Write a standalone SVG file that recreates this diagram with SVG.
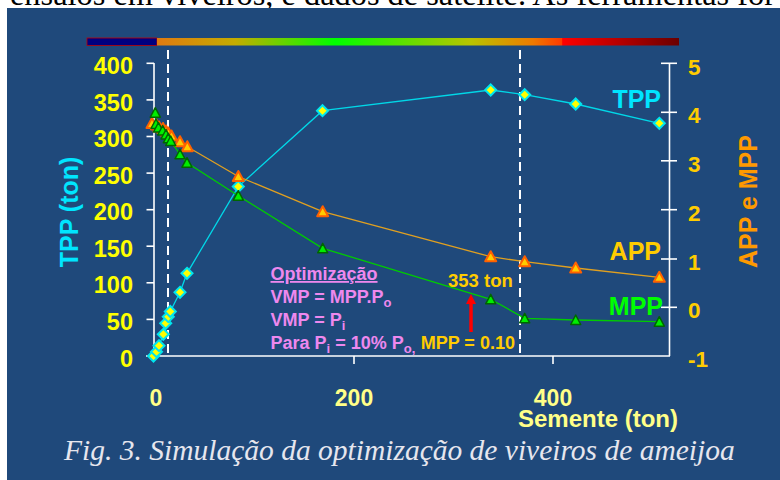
<svg xmlns="http://www.w3.org/2000/svg" width="780" height="480" viewBox="0 0 780 480">
<defs>
<style>
.sans{font-family:"Liberation Sans",Arial,sans-serif;font-weight:bold}
.ly{fill:#ffff00;font-size:23.5px;text-anchor:end}
.ry{fill:#ffcc00;font-size:22.5px}
.xl{fill:#ffff88;font-size:23px;text-anchor:middle}
.ann{fill:#ee88ee;font-size:18px}
.sub{font-size:13px}
.ax{stroke:#ffffff;stroke-width:1.6;fill:none}
.dash{stroke:#ffffff;stroke-width:2;stroke-dasharray:9 5;fill:none}
.tpp{stroke:#00d8e8;stroke-width:1.3;fill:none}
.app{stroke:#e0a020;stroke-width:1.3;fill:none}
.mpp{stroke:#00cc00;stroke-width:1.3;fill:none}
</style>
<linearGradient id="cbar" x1="157" y1="0" x2="679" y2="0" gradientUnits="userSpaceOnUse">
<stop offset="0" stop-color="#e07a10"/>
<stop offset="0.15" stop-color="#c4ac00"/>
<stop offset="0.341" stop-color="#00ff00"/>
<stop offset="0.6" stop-color="#b8c400"/>
<stop offset="0.72" stop-color="#ee7a00"/>
<stop offset="0.776" stop-color="#ff3a00"/>
<stop offset="0.777" stop-color="#ff0000"/>
<stop offset="1" stop-color="#6a0000"/>
</linearGradient>
<path id="dia" d="M0,-5.5 L5.5,0 L0,5.5 L-5.5,0 Z" fill="#ffff00" stroke="#00e5ee" stroke-width="2"/>
<path id="tapp" d="M0,-5.5 L5.5,4.5 L-5.5,4.5 Z" fill="#ffcc00" stroke="#ff6000" stroke-width="2" stroke-linejoin="round"/>
<path id="tmpp" d="M0,-5 L5,4.5 L-5,4.5 Z" fill="#00ee00" stroke="#006600" stroke-width="1.5" stroke-linejoin="round"/>
</defs>

<rect x="0" y="0" width="780" height="480" fill="#ffffff"/>
<text x="10" y="4.5" font-family="'Liberation Serif','Times New Roman',serif" font-size="31" fill="#000000" textLength="765" lengthAdjust="spacingAndGlyphs">ensaios em viveiros, e dados de satélite. As ferramentas for</text>
<rect x="7" y="8" width="773" height="472" fill="#1f497b"/>

<g id="colorbar">
<rect x="87" y="38" width="70" height="7.5" fill="#000080" stroke="#c00000" stroke-width="0.8"/>
<rect x="157" y="38" width="522" height="7.5" fill="url(#cbar)"/>
</g>

<g id="axes">
<line class="ax" x1="154" y1="63" x2="154" y2="356"/>
<line class="ax" x1="146" y1="356" x2="670" y2="356"/>
<line class="ax" x1="669.5" y1="63" x2="669.5" y2="356"/>
<g class="ax">
<line x1="146.5" y1="63.3" x2="154" y2="63.3"/>
<line x1="146.5" y1="99.9" x2="154" y2="99.9"/>
<line x1="146.5" y1="136.5" x2="154" y2="136.5"/>
<line x1="146.5" y1="173.1" x2="154" y2="173.1"/>
<line x1="146.5" y1="209.7" x2="154" y2="209.7"/>
<line x1="146.5" y1="246.2" x2="154" y2="246.2"/>
<line x1="146.5" y1="282.8" x2="154" y2="282.8"/>
<line x1="146.5" y1="319.4" x2="154" y2="319.4"/>
<line x1="354" y1="356" x2="354" y2="364"/>
<line x1="553" y1="356" x2="553" y2="364"/>
<line x1="661" y1="63.3" x2="677" y2="63.3"/>
<line x1="661" y1="112.3" x2="677" y2="112.3"/>
<line x1="661" y1="160.8" x2="677" y2="160.8"/>
<line x1="661" y1="209.7" x2="677" y2="209.7"/>
<line x1="661" y1="259" x2="677" y2="259"/>
<line x1="661" y1="307.3" x2="677" y2="307.3"/>
</g>
<g class="sans ly">
<text x="133" y="74">400</text>
<text x="133" y="110.5">350</text>
<text x="133" y="147">300</text>
<text x="133" y="183.6">250</text>
<text x="133" y="220.2">200</text>
<text x="133" y="256.7">150</text>
<text x="133" y="293.3">100</text>
<text x="133" y="329.9">50</text>
<text x="133" y="366.5">0</text>
</g>
<g class="sans ry">
<text x="688" y="74.5">5</text>
<text x="688" y="123.3">4</text>
<text x="688" y="171.8">3</text>
<text x="688" y="220.7">2</text>
<text x="688" y="270">1</text>
<text x="688" y="318.3">0</text>
<text x="688" y="367">-1</text>
</g>
<g class="sans xl">
<text x="156" y="405.5">0</text>
<text x="354" y="405.5">200</text>
<text x="553" y="405.5">400</text>
</g>
<text class="sans" x="678" y="427" font-size="24" fill="#ffff88" text-anchor="end">Semente (ton)</text>
<text class="sans" transform="translate(78,212) rotate(-90)" font-size="25" fill="#00e5ff" text-anchor="middle">TPP (ton)</text>
<text class="sans" transform="translate(757,201.5) rotate(-90)" font-size="25" fill="#ff9900" text-anchor="middle">APP e MPP</text>
</g>

<g id="guides">
<line class="dash" x1="168" y1="50" x2="168" y2="356"/>
<line class="dash" x1="520" y1="50" x2="520" y2="356"/>
</g>

<g id="series-tpp">
<polyline class="tpp" points="153.5,356 156.5,351.7 159,345.7 163.3,334.3 165.7,323.3 168.3,316.7 170.3,311.5 180,292.3 187,273.3 238.3,186.6 322.5,110.7 490.7,90 524.7,94.7 575.7,104 659.3,123.3"/>
<use href="#dia" x="153.5" y="356"/><use href="#dia" x="156.5" y="351.7"/><use href="#dia" x="159" y="345.7"/>
<use href="#dia" x="163.3" y="334.3"/><use href="#dia" x="165.7" y="323.3"/><use href="#dia" x="168.3" y="316.7"/>
<use href="#dia" x="170.3" y="311.5"/><use href="#dia" x="180" y="292.3"/><use href="#dia" x="187" y="273.3"/>
<use href="#dia" x="238.3" y="186.6"/><use href="#dia" x="322.5" y="110.7"/><use href="#dia" x="490.7" y="90"/>
<use href="#dia" x="524.7" y="94.7"/><use href="#dia" x="575.7" y="104"/><use href="#dia" x="659.3" y="123.3"/>
</g>

<g id="series-app">
<polyline class="app" points="152,123.5 156.5,125 159,127 163,128.5 166,131 168.3,133 171.5,136 180,141.7 187.3,146.7 238.3,176.5 322.7,211.7 490.7,256.7 524.7,261.7 575.7,268 659.3,277.3"/>
<use href="#tapp" x="152" y="123.5"/><use href="#tapp" x="156.5" y="125"/><use href="#tapp" x="159" y="127"/>
<use href="#tapp" x="163" y="128.5"/><use href="#tapp" x="166" y="131"/><use href="#tapp" x="168.3" y="133"/>
<use href="#tapp" x="171.5" y="136"/><use href="#tapp" x="180" y="141.7"/><use href="#tapp" x="187.3" y="146.7"/>
<use href="#tapp" x="238.3" y="176.5"/><use href="#tapp" x="322.7" y="211.7"/><use href="#tapp" x="490.7" y="256.7"/>
<use href="#tapp" x="524.7" y="261.7"/><use href="#tapp" x="575.7" y="268"/><use href="#tapp" x="659.3" y="277.3"/>
</g>

<g id="series-mpp">
<polyline class="mpp" points="155.3,112.7 156,124 158.5,127.5 162.7,130.5 166,134.5 168.3,138.3 170.7,141 180,154.3 187,162.7 238.3,195.7 322.7,248.3 490.7,299.3 524.7,318.3 575.7,320 659.3,321.7"/>
<use href="#tmpp" x="155.3" y="112.7"/><use href="#tmpp" x="156" y="124"/><use href="#tmpp" x="158.5" y="127.5"/>
<use href="#tmpp" x="162.7" y="130.5"/><use href="#tmpp" x="166" y="134.5"/><use href="#tmpp" x="168.3" y="138.3"/>
<use href="#tmpp" x="170.7" y="141"/><use href="#tmpp" x="180" y="154.3"/><use href="#tmpp" x="187" y="162.7"/>
<use href="#tmpp" x="238.3" y="195.7"/><use href="#tmpp" x="322.7" y="248.3"/><use href="#tmpp" x="490.7" y="299.3"/>
<use href="#tmpp" x="524.7" y="318.3"/><use href="#tmpp" x="575.7" y="320"/><use href="#tmpp" x="659.3" y="321.7"/>
</g>

<g id="legend" class="sans" font-size="25" text-anchor="end">
<text x="661" y="108" fill="#00e5ff">TPP</text>
<text x="661" y="260" fill="#ffcc00">APP</text>
<text x="663" y="315" fill="#00ff00">MPP</text>
</g>

<g id="annotation" class="sans">
<text class="ann" x="270.5" y="280" text-decoration="underline">Optimização</text>
<text class="ann" x="270.5" y="303">VMP = MPP.P<tspan class="sub" dy="4">o</tspan></text>
<text class="ann" x="270.5" y="325.5">VMP = P<tspan class="sub" dy="4">i</tspan></text>
<text class="ann" x="270.5" y="349">Para P<tspan class="sub" dy="4">i</tspan><tspan dy="-4"> = 10% P</tspan><tspan class="sub" dy="4">o,</tspan></text>
<text x="420.7" y="349" font-size="18" fill="#ffcc00">MPP = 0.10</text>
<text x="448" y="286.5" font-size="18.5" fill="#ffcc00">353 ton</text>
<line x1="471" y1="332" x2="471" y2="302" stroke="#ff0000" stroke-width="3.5"/>
<polygon points="471,294 466,304 476,304" fill="#ff0000"/>
</g>

<text x="64" y="460" font-family="'Liberation Serif','Times New Roman',serif" font-style="italic" font-size="29.5" fill="#e6e6ee">Fig. 3. Simulação da optimização de viveiros de ameijoa</text>
</svg>
